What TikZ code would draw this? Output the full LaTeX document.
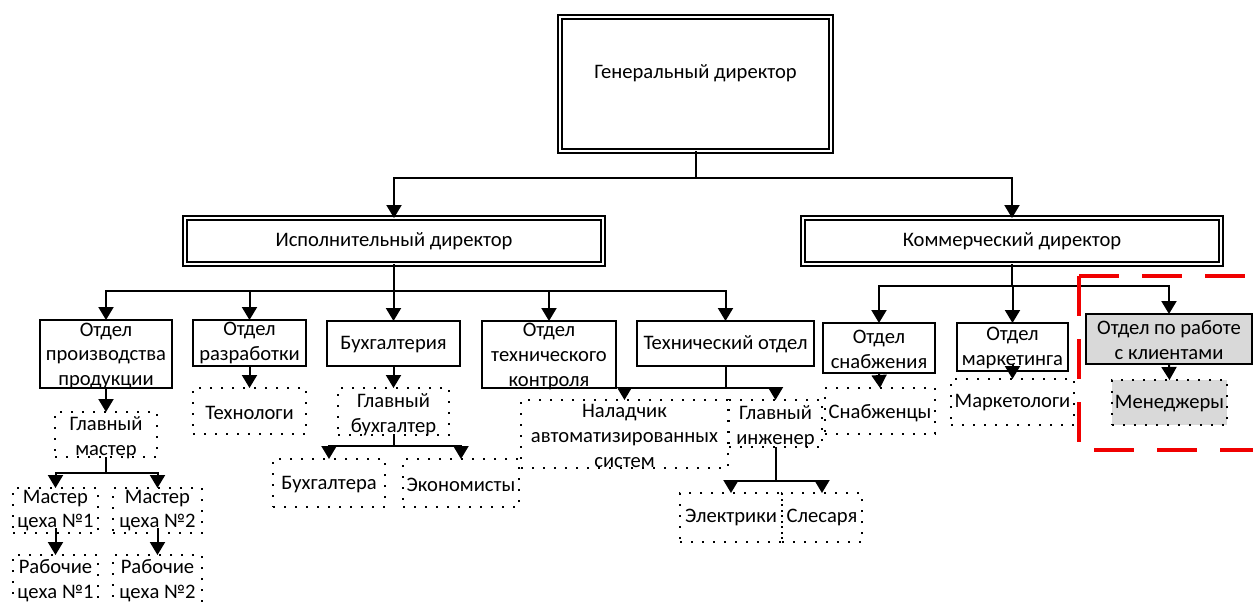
\documentclass[tikz,border=0pt]{standalone}
\usepackage{fontspec}
\setmainfont{Carlito}
\usetikzlibrary{arrows.meta}
\definecolor{boxgray}{HTML}{D9D9D9}
\definecolor{hilite}{HTML}{F00000}
\tikzset{
  txt/.style={font=\fontsize{20.6}{24.8}\selectfont, align=center, inner sep=0pt},
  solidbox/.style={draw, line width=1.8pt, inner sep=0pt, outer sep=0pt},
  dblbox/.style={draw, line width=1.7pt, double, double distance=2pt, inner sep=0pt, outer sep=0pt},
  dotbox/.style={draw, line width=1.6pt, dash pattern=on 1.6pt off 9.4pt, inner sep=0pt, outer sep=0pt},
  graybox/.style={fill=boxgray},
  link/.style={line width=2pt, -{Triangle[width=15pt,length=13pt]}},
  frame/.style={draw=hilite, line width=4pt, dash pattern=on 40pt off 23pt},
}
% box: name, style, left, top, right, bottom, text, text shift (down)
\newcommand\orgbox[8]{%
  \node[#2, anchor=north west, minimum width={(#5-#3)*1pt}, minimum height={(#6-#4)*1pt}] (#1) at (#3,#4) {};
  \node[txt] at ([shift={(0,#8)}]#1.center) {#7};
}
\begin{document}
\begin{tikzpicture}[x=1pt, y=-1pt]
\useasboundingbox (0,0) rectangle (1253,602);
\clip (0,0) rectangle (1253,602);

% top management
\orgbox{gd}{dblbox}{560}{17}{831}{151}{Генеральный директор}{-11}
\orgbox{ed}{dblbox}{185}{218}{603}{264}{Исполнительный директор}{0}
\orgbox{cd}{dblbox}{803}{218}{1221}{264}{Коммерческий директор}{0}

% departments
\orgbox{prod}{solidbox}{40}{320}{172}{388}{Отдел\\производства\\продукции}{2}
\orgbox{dev}{solidbox}{193}{320}{306}{366}{Отдел\\разработки}{0}
\orgbox{acc}{solidbox}{327}{321}{460}{366}{Бухгалтерия}{1}
\orgbox{qc}{solidbox}{482}{321}{616}{388}{Отдел\\технического\\контроля}{2}
\orgbox{tech}{solidbox}{637}{321}{814}{366}{Технический отдел}{1}
\orgbox{sup}{solidbox}{823}{323}{935}{373}{Отдел\\снабжения}{1}
\orgbox{mkt}{solidbox}{957}{323}{1068}{371}{Отдел\\маркетинга}{1}
\orgbox{cli}{solidbox,graybox}{1086}{314}{1252}{364}{Отдел по работе\\с клиентами}{1}

% staff
\orgbox{gm}{dotbox}{55}{412}{157}{457}{Главный\\мастер}{3}
\orgbox{m1}{dotbox}{13}{488}{98}{533}{Мастер\\цеха №1}{0}
\orgbox{m2}{dotbox}{113}{488}{202}{533}{Мастер\\цеха №2}{0}
\orgbox{w1}{dotbox}{13}{555}{98}{612}{Рабочие\\цеха №1}{-3}
\orgbox{w2}{dotbox}{113}{555}{202}{612}{Рабочие\\цеха №2}{-3}
\orgbox{techn}{dotbox}{193}{388}{306}{434}{Технологи}{2}
\orgbox{ca}{dotbox}{338}{388}{449}{435}{Главный\\бухгалтер}{3}
\orgbox{bk}{dotbox}{273}{459}{385}{507}{Бухгалтера}{2}
\orgbox{eco}{dotbox}{403}{459}{519}{507}{Экономисты}{2}
\orgbox{adj}{dotbox}{521}{400}{728}{468}{Наладчик\\автоматизированных\\систем}{2}
\orgbox{ce}{dotbox}{729}{400}{822}{447}{Главный\\инженер}{3}
\orgbox{el}{dotbox}{680}{493}{782}{542}{Электрики}{0}
\orgbox{fit}{dotbox}{782}{493}{862}{542}{Слесаря}{0}
\orgbox{sn}{dotbox}{825}{388}{935}{434}{Снабженцы}{2}
\orgbox{mk}{dotbox}{951}{379}{1074}{425}{Маркетологи}{1}
\orgbox{mgr}{dotbox,graybox}{1112}{380}{1227}{425}{Менеджеры}{1}

% bus levels
\coordinate (busA) at (0,178);
\coordinate (busB) at (0,291);
\coordinate (busC) at (0,286);
\coordinate (busD) at (0,473);
\coordinate (busE) at (0,446);
\coordinate (busF) at (0,388);
\coordinate (busG) at (0,481);

% connectors
\foreach \c in {ed,cd} \draw[link] (gd.south) |- (busA -| \c.north) -- (\c.north);
\foreach \c in {prod,dev,acc,qc,tech} \draw[link] (ed.south) |- (busB -| \c.north) -- (\c.north);
\foreach \c in {sup,mkt,cli} \draw[link] (cd.south) |- (busC -| \c.north) -- (\c.north);

\draw[link] (prod.south) -- (gm.north);
\foreach \c in {m1,m2} \draw[link] (gm.south) |- (busD -| \c.north) -- (\c.north);
\draw[link] ([yshift=5pt]m1.south) -- (w1.north);
\draw[link] ([yshift=5pt]m2.south) -- (w2.north);

\draw[link] (dev.south) -- (techn.north);
\draw[link] (acc.south) -- (ca.north);
\foreach \c in {bk,eco} \draw[link] (ca.south) |- (busE -| \c.north) -- (\c.north);

\foreach \c in {adj,ce} \draw[link] (tech.south) |- (busF -| \c.north) -- (\c.north);
\foreach \c in {el,fit} \draw[link] (ce.south) |- (busG -| \c.north) -- (\c.north);

\draw[link] (sup.south) -- (sn.north);
\draw[link] ([yshift=7pt]mkt.south) -- (mk.north);
\draw[link] (cli.south) -- (mgr.north);

% highlighted client service area
\coordinate (hlA) at (1079,276);
\coordinate (hlB) at (1079,450);
\draw[frame] (hlA) -- ++(185,0);
\draw[frame] (hlA) -- (hlB) -- ++(185,0);
\end{tikzpicture}
\end{document}
